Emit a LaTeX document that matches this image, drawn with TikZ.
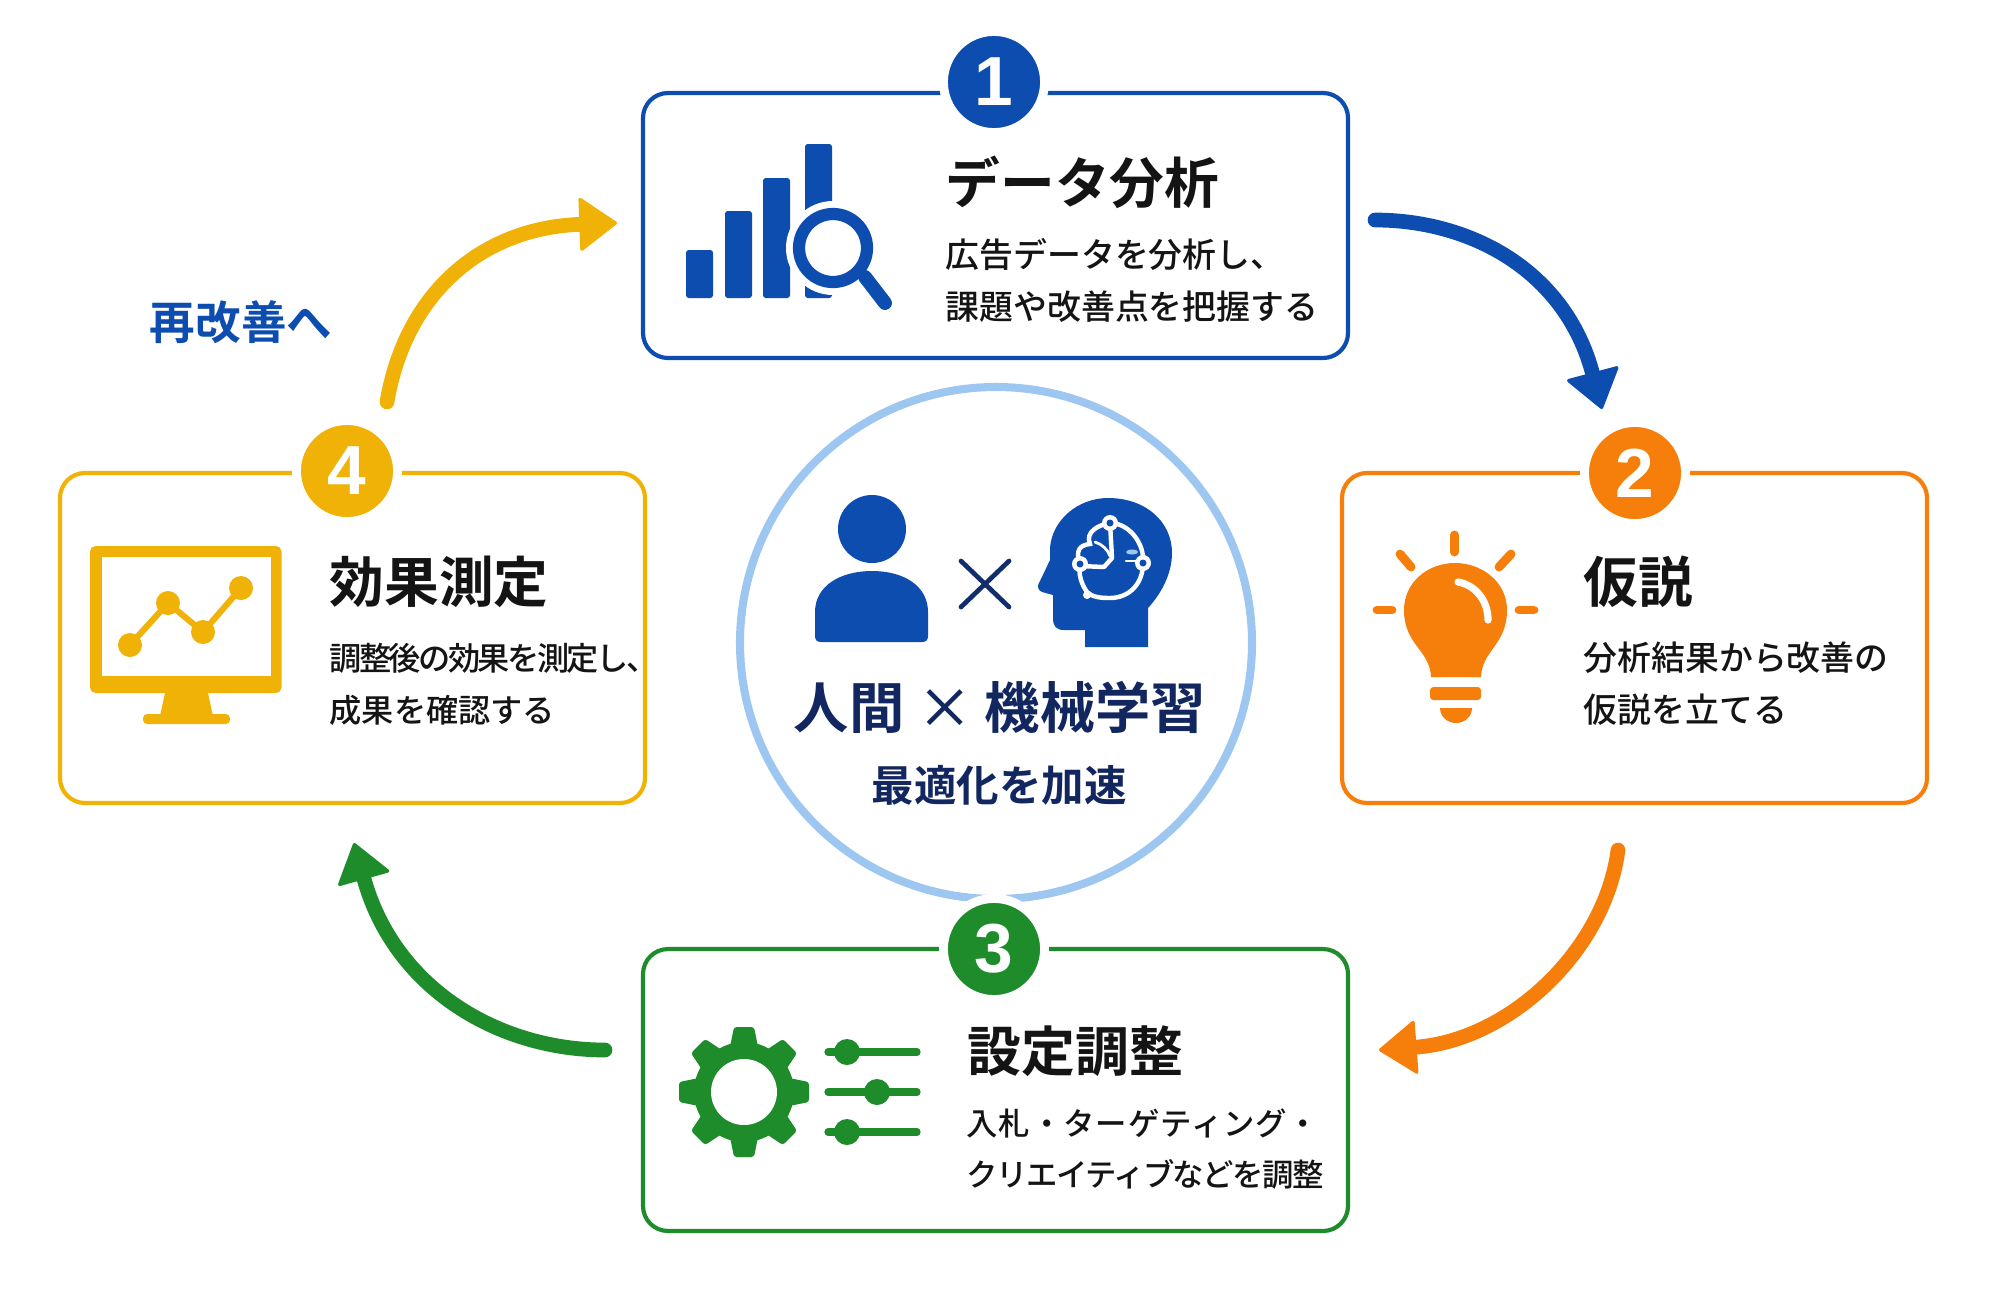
\documentclass[tikz,border=0pt]{standalone}
\usepackage{fontspec}
\setmainfont{Noto Sans CJK JP Medium}[BoldFont={Noto Sans CJK JP Bold}]
\newfontfamily\numfont{Liberation Sans}
\usetikzlibrary{arrows.meta}
\definecolor{stepblue}{HTML}{0D4DB0}
\definecolor{steporange}{HTML}{F57F0A}
\definecolor{stepgreen}{HTML}{1E8C2A}
\definecolor{stepyellow}{HTML}{F0B207}
\definecolor{ringblue}{HTML}{9DC6F1}
\definecolor{navy}{HTML}{12275F}
\definecolor{ink}{HTML}{141414}
\tikzset{
  stepbox/.style={draw=#1,fill=white,line width=1.5,rounded corners=9pt,inner sep=0pt},
  numcircle/.style={circle,fill=#1,draw=white,line width=3.2,minimum size=36.4pt,inner sep=0pt,text=white,font=\numfont\bfseries\fontsize{25}{28}\selectfont},
  titletext/.style={anchor=west,inner sep=0pt,text=ink,font=\bfseries\fontsize{19.7}{23}\selectfont},
  bodytext/.style={anchor=west,inner sep=0pt,text=ink,align=left,font=\fontsize{12.2}{18.7}\selectfont},
  flowarrow/.style={draw=#1,line width=5.3,line cap=round,-{Triangle[length=14pt,width=20pt,line width=1.2pt,round]}},
}
\begin{document}
\begin{tikzpicture}[x=0.36pt,y=0.36pt,yscale=-1,xscale=1]
\useasboundingbox (0,0) rectangle (2000,1288);

%Shape: Circle centre
\draw [color=ringblue,line width=2.9] (996,643) circle [radius=256];

%Boxes
\node [stepbox=stepblue,minimum width=253.8pt,minimum height=95.4pt] (box1) at (995.5,225.5) {};
\node [stepbox=steporange,minimum width=210.6pt,minimum height=118.8pt] (box2) at (1634.5,638) {};
\node [stepbox=stepgreen,minimum width=253.8pt,minimum height=101.5pt] (box3) at (995.5,1090) {};
\node [stepbox=stepyellow,minimum width=210.6pt,minimum height=118.8pt] (box4) at (352.5,638) {};

%Numbers
\node [numcircle=stepblue] (num1) at (994,82) {1};
\node [numcircle=steporange] (num2) at (1635,473) {2};
\node [numcircle=stepgreen] (num3) at (994,949) {3};
\node [numcircle=stepyellow] (num4) at (347,471) {4};

%Arrow ends
\coordinate (a12s) at (1375,220);
\coordinate (a12e) at (1602,409);
\coordinate (a23s) at (1618,850);
\coordinate (a23e) at (1379,1050);
\coordinate (a34s) at (605,1050);
\coordinate (a34e) at (354,843);
\coordinate (a41s) at (387,402);
\coordinate (a41e) at (617,223);

%Curved arrows
\draw [flowarrow=stepblue] (a12s) .. controls (1470,220) and (1565,270) .. (a12e);
\draw [flowarrow=steporange] (a23s) .. controls (1605,950) and (1510,1040) .. (a23e);
\draw [flowarrow=stepgreen] (a34s) .. controls (500,1050) and (395,990) .. (a34e);
\draw [flowarrow=stepyellow] (a41s) .. controls (405,295) and (480,228) .. (a41e);

%Texts
\node [titletext] (title1) at (945,182) {データ分析};
\node [bodytext] (body1) at (945,280) {広告データを分析し、\\課題や改善点を把握する};
\node [titletext] (title2) at (1583,582) {仮説};
\node [bodytext] (body2) at (1583,684) {分析結果から改善の\\仮説を立てる};
\node [titletext,font=\bfseries\fontsize{19.4}{23}\selectfont] (title3) at (967,1051) {設定調整};
\node [bodytext,font=\fontsize{11.3}{18.4}\selectfont] (body3) at (966,1149) {{\addfontfeature{LetterSpace=3}入札・ターゲティング・}\\{\addfontfeature{LetterSpace=-5}クリエイティブなどを調整}};
\node [titletext] (title4) at (329,582) {効果測定};
\node [bodytext,font=\fontsize{11.6}{18.7}\selectfont] (body4) at (329,684) {{\addfontfeature{LetterSpace=-8}調整後の効果を測定し、}\\成果を確認する};
\node [anchor=center,inner sep=0pt,text=stepblue,font=\bfseries\fontsize{16.4}{20}\selectfont] (again) at (241,322) {再改善へ};
\node [anchor=center,inner sep=0pt,text=navy,font=\bfseries\fontsize{19.9}{24}\selectfont] (maintext) at (1000,707) {人間 {\mdseries ×} 機械学習};
\node [anchor=center,inner sep=0pt,text=navy,font=\bfseries\fontsize{15.3}{18}\selectfont] (subtext) at (999,785) {最適化を加速};

%Icon: bars and magnifier
\foreach \xa/\ya in {686/250,725/211,763/178,805/144}
  \fill [stepblue,rounded corners=1pt] (\xa,298) rectangle (\xa+27,\ya);
\fill [white] (833,248) circle [radius=47];
\draw [stepblue,line width=4.4] (833,248) circle [radius=34];
\draw [stepblue,line width=5,line cap=round] (865,277) -- (885,303);

%Icon: bulb
\fill [steporange] (1431,677) .. controls (1430,650) and (1404,645) .. (1404,610) .. controls (1404,582) and (1428,563) .. (1455,563) .. controls (1482,563) and (1507,582) .. (1507,610) .. controls (1507,645) and (1482,650) .. (1481,677) -- cycle;
\draw [white,line width=2.6,line cap=round] (1458,582) .. controls (1475,585) and (1488,600) .. (1488,620);
\fill [steporange,rounded corners=1.2pt] (1430,687) rectangle (1481,700);
\fill [steporange] (1440,708) -- (1472,708) .. controls (1472,717) and (1464,723) .. (1456,723) .. controls (1448,723) and (1440,717) .. (1440,708) -- cycle;
\foreach \xa/\ya/\xb/\yb in {1454.5/535/1454.5/552,1400/554/1411/567,1511/554/1499/567,1377/610/1392/610,1519/610/1534/610}
  \draw [steporange,line width=3.2,line cap=round] (\xa,\ya) -- (\xb,\yb);

%Icon: gear and sliders
\fill [stepgreen] (744,1092) circle [radius=50];
\foreach \a in {0,45,...,315}
  \fill [stepgreen,rounded corners=1pt,rotate around={\a:(744,1092)}] (730,1047) -- (734,1027) -- (754,1027) -- (758,1047) -- cycle;
\fill [white] (744,1092) circle [radius=33];
\foreach \yl/\xk in {1052/847,1092/877,1132/847}{
  \draw [stepgreen,line width=2.6,line cap=round] (828,\yl) -- (917,\yl);
  \fill [stepgreen] (\xk,\yl) circle [radius=13];
}

%Icon: monitor
\fill [stepyellow,rounded corners=2pt] (90,546) rectangle (281.5,693);
\fill [white] (102,557) rectangle (271,676);
\fill [stepyellow] (165,693) -- (208,693) -- (213,716) -- (160,716) -- cycle;
\fill [stepyellow,rounded corners=1.5pt] (143,714) rectangle (230,724);
\draw [stepyellow,line width=2.2] (130,645) -- (168,603) -- (203,632) -- (241,588);
\foreach \xa/\ya in {130/645,168/603,203/632,241/588}
  \fill [stepyellow] (\xa,\ya) circle [radius=12];

%Icon: person
\fill [stepblue] (872,529) circle [radius=34];
\fill [stepblue] (815,636) -- (815,612) .. controls (815,586) and (840,571) .. (872,571) .. controls (904,571) and (928,586) .. (928,612) -- (928,636) .. controls (928,640) and (926,642) .. (922,642) -- (821,642) .. controls (817,642) and (815,640) .. (815,636) -- cycle;

%Straight Lines: cross
\draw [navy!85!stepblue,line width=1.7,line cap=round] (961,561) -- (1009,607);
\draw [navy!85!stepblue,line width=1.7,line cap=round] (1009,561) -- (961,607);

%Icon: head
\fill [stepblue] (1108,498) .. controls (1146,498) and (1172,522) .. (1172,553) .. controls (1172,575) and (1160,595) .. (1148,608) -- (1148,647) -- (1085,647) -- (1085,630) -- (1064,630) .. controls (1056,630) and (1053,626) .. (1053,618) -- (1053,595) -- (1042,592) .. controls (1037,590) and (1037,585) .. (1040,581) -- (1050,560) -- (1050,548) .. controls (1052,520) and (1078,498) .. (1108,498) -- cycle;
\draw [white,line width=1.6,line cap=round] (1110,523) .. controls (1130,523) and (1145,545) .. (1143,563) .. controls (1143,585) and (1128,598) .. (1110,598) .. controls (1100,598) and (1092,597) .. (1087,592) .. controls (1082,585) and (1078,575) .. (1080,564) .. controls (1075,550) and (1080,545) .. (1090,544) .. controls (1085,532) and (1098,525) .. (1110,523);
\draw [white,line width=1.6,line cap=round,line join=round] (1110,523) -- (1112,558) -- (1104,567) -- (1080,566);
\draw [white,line width=1,line cap=round] (1095,542) .. controls (1102,544) and (1108,550) .. (1110,556);
\draw [white,line width=0.9,line cap=round] (1126,561) -- (1140,561);
\fill [ringblue] (1132,552) ellipse [x radius=6,y radius=2.5];
\fill [white] (1087,595) circle [radius=4];
\foreach \xa/\ya in {1110/523,1080/564,1143/563}{
  \fill [white] (\xa,\ya) circle [radius=8];
  \fill [stepblue] (\xa,\ya) circle [radius=3.5];
}
\end{tikzpicture}
\end{document}
